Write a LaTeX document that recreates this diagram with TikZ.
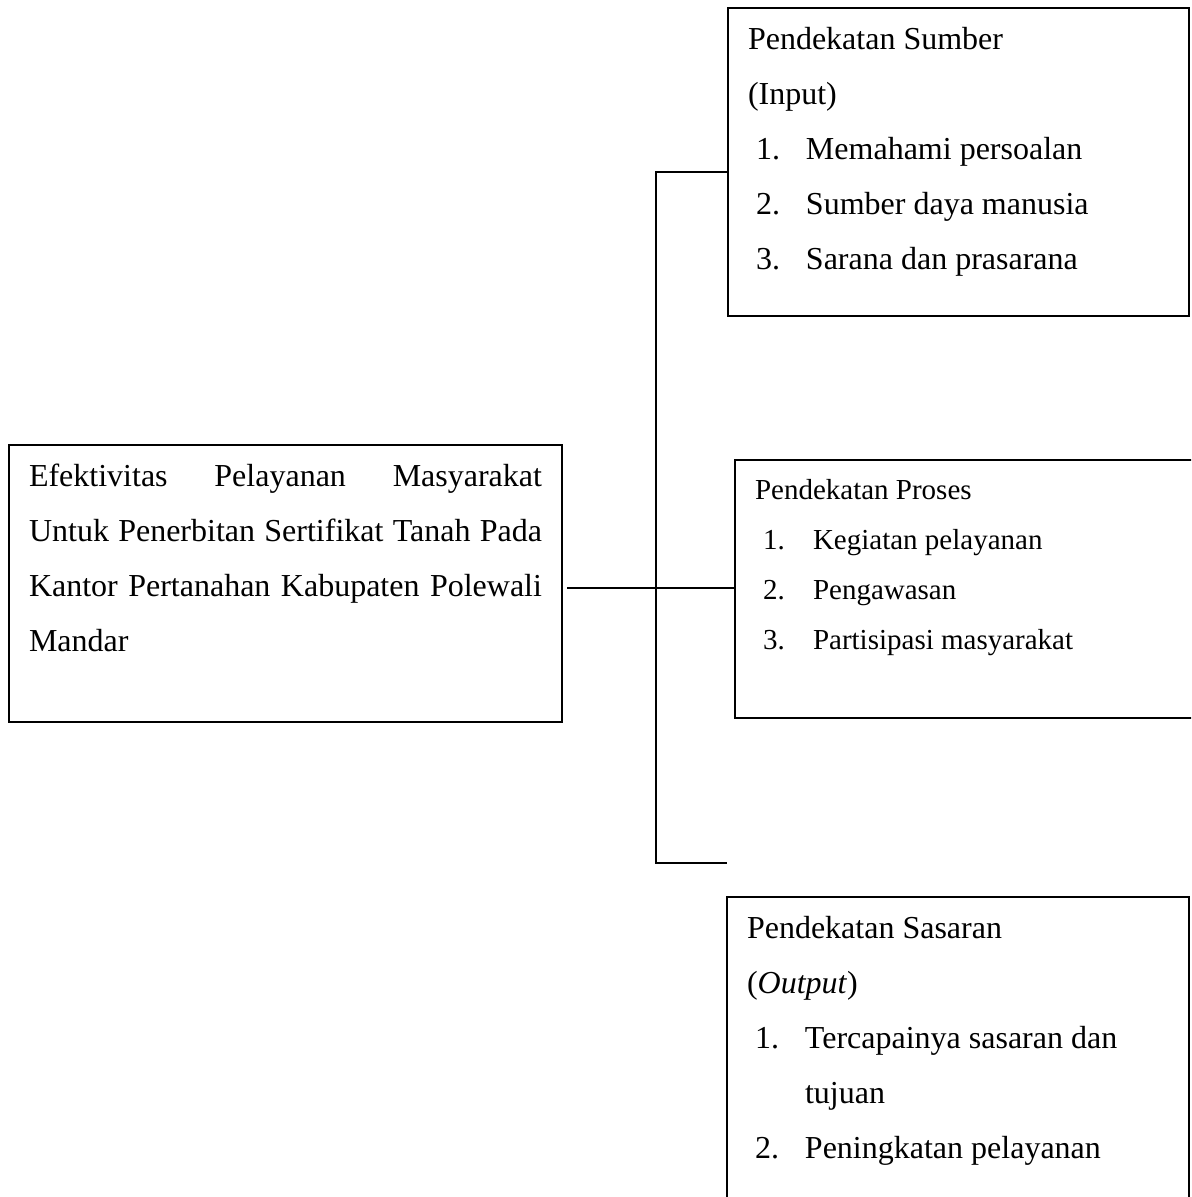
\documentclass[tikz,border=0pt]{standalone}
\usepackage{fontspec}
\setmainfont{Liberation Serif}
\usetikzlibrary{positioning}

\tikzset{
  box/.style={draw, line width=0.9pt, inner xsep=10pt, inner ysep=0pt, outer sep=0pt, anchor=north west},
  link/.style={line width=0.9pt},
}
% width, height, font size, line skip, text
\newcommand{\boxtext}[5]{\parbox[t][#2][t]{#1}{\fontsize{#3}{#4}\selectfont\vspace*{9.5pt}#5}}
\newcommand{\itm}[2]{\hspace*{4pt}\makebox[25pt][l]{#1}#2\par}

\begin{document}
\begin{tikzpicture}[x=0.5pt, y=-0.5pt]
  \useasboundingbox (0,0) rectangle (1191,1197);
  \clip (0,0) rectangle (1191,1197);

  \node[box] (main) at (9,445) {\boxtext{256.5pt}{138.5pt}{16pt}{27.5pt}{%
    Efektivitas Pelayanan Masyarakat\linebreak
    Untuk Penerbitan Sertifikat Tanah Pada\linebreak
    Kantor Pertanahan Kabupaten Polewali\linebreak
    Mandar}};

  \node[box] (input) at (728,8) {\boxtext{210.5pt}{154pt}{16pt}{27.5pt}{%
    Pendekatan Sumber\par
    (Input)\par
    \itm{1.}{Memahami persoalan}
    \itm{2.}{Sumber daya manusia}
    \itm{3.}{Sarana dan prasarana}}};

  \node[box] (proses) at (735,460) {\boxtext{215pt}{129pt}{14.5pt}{25pt}{%
    Pendekatan Proses\par
    \itm{1.}{Kegiatan pelayanan}
    \itm{2.}{Pengawasan}
    \itm{3.}{Partisipasi masyarakat}}};

  \node[box] (sasaran) at (727,897) {\boxtext{211pt}{165pt}{16pt}{27.5pt}{%
    Pendekatan Sasaran\par
    (\textit{Output})\par
    \itm{1.}{Tercapainya sasaran dan}
    \hspace*{29pt}tujuan\par
    \itm{2.}{Peningkatan pelayanan}}};

  % garis penghubung
  \coordinate (top) at (656,172);
  \coordinate (bot) at (656,863);
  \coordinate (mid) at (656,588);
  \draw[link] (input.west |- top) -- (top) -- (bot) -- (sasaran.west |- bot);
  \draw[link] ([xshift=2.5pt]main.east |- mid) -- (proses.west |- mid);
\end{tikzpicture}
\end{document}
